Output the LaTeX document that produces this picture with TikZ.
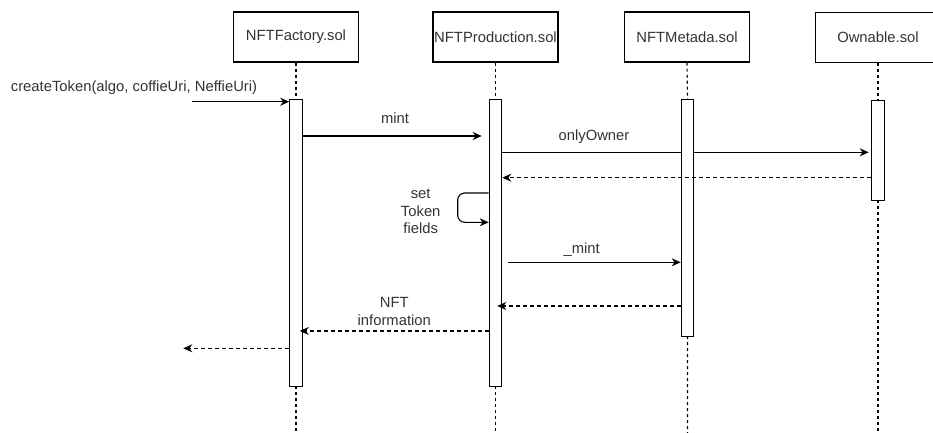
\documentclass[tikz,border=0pt]{standalone}
\usepackage{fontspec}
\setmainfont{Liberation Sans}
\usetikzlibrary{arrows.meta}
\begin{document}
\begin{tikzpicture}[x=1pt,y=-1pt,
  every node/.style={font=\fontsize{14.8}{17.5}\selectfont, text=black!80},
  actor/.style={draw, line width=1.1pt, minimum width=125pt, minimum height=50pt, inner sep=0pt, fill=white},
  bar/.style={draw, line width=1.1pt, fill=white, minimum width=12.5pt, inner sep=0pt, anchor=north},
  life/.style={line width=1.1pt, dash pattern=on 3pt off 3pt},
  call/.style={line width=1.1pt, -{Stealth[length=9pt,width=8pt]}},
  reply/.style={line width=1.1pt, dash pattern=on 4pt off 3pt, -{Stealth[length=9pt,width=8pt]}},
  lbl/.style={align=center, inner sep=0pt}]
\useasboundingbox (0,0) rectangle (933,433);
\clip (0,0) rectangle (933,433);

% participants
\node[actor] (fac) at (296,37) {NFTFactory.sol};
\node[actor] (pro) at (495.5,37) {NFTProduction.sol};
\node[actor] (met) at (687,37) {NFTMetada.sol};
\node[actor] (own) at (878,37.5) {Ownable.sol};

% activation bar geometry (placed as coordinates first, drawn later)
\coordinate (facTop) at (296,99);
\coordinate (proTop) at (495.5,99);
\coordinate (metTop) at (687.5,99);
\coordinate (ownTop) at (878,100);

% lifelines
\draw[life] (fac.south) -- (facTop) (296,386) -- (296,433);
\draw[life] (pro.south) -- (proTop) (495.5,386) -- (495.5,433);
\draw[life] (met.south) -- (metTop) (687.5,336) -- (687.5,433);
\draw[life] (own.south) -- (ownTop) (878,200) -- (878,433);

% the onlyOwner call passes behind the NFTMetada bar
\draw[call, shorten >=3pt] (501.7,152.3) -- (871.7,152.3);
\node[lbl] (lOwner) at (594,137) {onlyOwner};

% activation bars
\node[bar, minimum height=287pt] (fbar) at (facTop) {};
\node[bar, minimum height=287pt] (pbar) at (proTop) {};
\node[bar, minimum height=237pt] (mbar) at (metTop) {};
\node[bar, minimum height=100pt] (obar) at (ownTop) {};

% incoming call
\coordinate (start) at (191.7,101.7);
\draw[call] (start) -- (fbar.west |- start);
\node[lbl] (lCreate) at (134,88) {createToken(algo, coffieUri, NeffieUri)};

% mint
\draw[call, shorten >=7pt] (fbar.east |- 0,136) -- (pbar.west |- 0,136);
\node[lbl] (lMint) at (395,118) {mint};

% reply from Ownable
\draw[reply] (obar.west |- 0,177.7) -- (pbar.east |- 0,177.7);

% self call
\draw[call, rounded corners=7pt] (pbar.west |- 0,193) -- (457.7,193) -- (457.7,222.3) -- (pbar.west |- 0,222.3);
\node[lbl] (lSet) at (420.7,211.7) {set\\Token\\fields};

% _mint
\draw[call] ([xshift=6pt]pbar.east |- 0,262.3) -- (mbar.west |- 0,262.3);
\node[lbl] (lUMint) at (581.7,249.3) {\_mint};

% reply from NFTMetada
\draw[reply, shorten >=-5pt] (mbar.west |- 0,306) -- (pbar.east |- 0,306);

% NFT information
\draw[reply, shorten >=-3pt] (pbar.west |- 0,331) -- (fbar.east |- 0,331);
\node[lbl] (lInfo) at (394.3,311.5) {NFT\\information};

% final reply to caller
\coordinate (finish) at (183.3,348.3);
\draw[reply] (fbar.west |- finish) -- (finish);
\end{tikzpicture}
\end{document}
